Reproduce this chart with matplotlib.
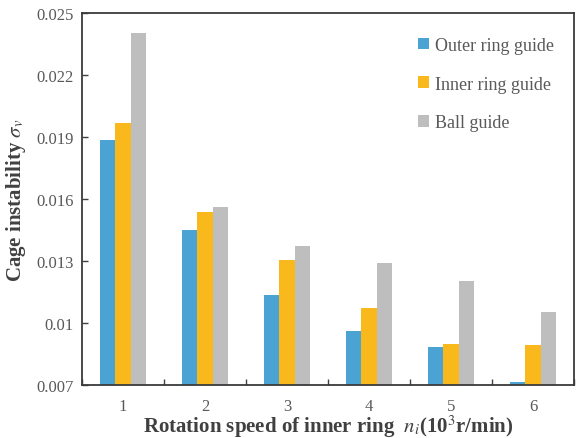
import numpy as np
import matplotlib
matplotlib.use('Agg')
import matplotlib.pyplot as plt

plt.rcParams['font.family'] = ['Liberation Serif', 'DejaVu Serif']
plt.rcParams['mathtext.fontset'] = 'stix'

speeds = ['1', '2', '3', '4', '5', '6']
outer_ring = [0.01888, 0.01451, 0.01136, 0.00960, 0.00882, 0.00717]
inner_ring = [0.01969, 0.01540, 0.01307, 0.01073, 0.00898, 0.00893]
ball_guide = [0.02406, 0.01562, 0.01372, 0.01291, 0.01205, 0.01052]
yticks = [0.007, 0.01, 0.013, 0.016, 0.019, 0.022, 0.025]
ytick_labels = ['0.007', '0.01', '0.013', '0.016', '0.019', '0.022', '0.025']

fig = plt.figure(figsize=(5.76, 4.39), dpi=100)
ax = fig.add_axes([0.1424, 0.1207, 0.8541, 0.8463])

x = np.arange(len(speeds))
w = 0.19
ax.bar(x - w, outer_ring, w, color='#4BA3D3', label='Outer ring guide')
ax.bar(x, inner_ring, w, color='#F9B81C', label='Inner ring guide')
ax.bar(x + w, ball_guide, w, color='#BEBEBE', label='Ball guide')

ax.set_xlim(-0.5, len(speeds) - 0.5)
ax.set_ylim(0.007, 0.025)
ax.set_xticks(x)
ax.set_xticklabels(speeds)
# small separators between the speed groups
ax.set_xticks(np.arange(len(speeds) + 1) - 0.5, minor=True)
ax.set_yticks(yticks)
ax.set_yticklabels(ytick_labels)

ax.tick_params(axis='x', which='major', length=0, pad=9, labelsize=12, labelcolor='#595959')
ax.tick_params(axis='x', which='minor', direction='in', length=4, width=1, color='#404040')
ax.tick_params(axis='y', direction='in', length=4, width=1, color='#404040',
               pad=6, labelsize=12, labelcolor='#595959')

for s in ax.spines.values():
    s.set_linewidth(1.3)
    s.set_color('#3a3a3a')

ax.set_ylabel(r'Cage instability $\sigma_v$', fontsize=15, fontweight='bold', color='#404040')
ax.yaxis.set_label_coords(-0.11, 0.5)
ax.set_xlabel(r'Rotation speed of inner ring  $n_i$(10$^3$r/min)', fontsize=15,
              fontweight='bold', color='#404040')
ax.xaxis.set_label_coords(0.5, -0.074)

ax.legend(loc='upper left', bbox_to_anchor=(0.683, 0.937), frameon=False, fontsize=13,
          handlelength=0.6, handleheight=0.6, handletextpad=0.35, labelspacing=1.2,
          borderpad=0, borderaxespad=0, labelcolor='#595959')

plt.savefig('out.png', dpi=100)
